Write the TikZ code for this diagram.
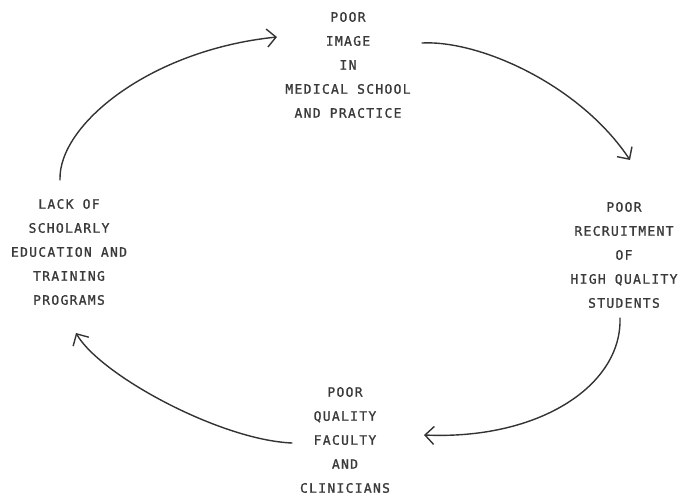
\documentclass[tikz,border=0pt]{standalone}
\usepackage{fontspec}
\usetikzlibrary{arrows.meta}
\newfontfamily\typew[LetterSpace=10,FakeBold=1.2]{DejaVu Sans Mono}
\definecolor{ink}{HTML}{333333}
\definecolor{txt}{HTML}{3A3A3A}
\tikzset{
  label box/.style={align=center, text=txt, font=\typew\fontsize{13}{24}\selectfont, inner sep=0pt},
  cycle arrow/.style={draw=ink, line width=1.4pt, line cap=round,
    -{Straight Barb[length=9pt,width=18pt,line width=1.4pt]}}
}
\begin{document}
\begin{tikzpicture}[x=1pt,y=-1pt]
\useasboundingbox (0,0) rectangle (681,495);
\node[label box] (top) at (348,65) {POOR\\IMAGE\\IN\\MEDICAL SCHOOL\\AND PRACTICE};
\node[label box] (right) at (624,255) {POOR\\RECRUITMENT\\OF\\HIGH QUALITY\\STUDENTS};
\node[label box] (bottom) at (345,440) {POOR\\QUALITY\\FACULTY\\AND\\CLINICIANS};
\node[label box] (left) at (69,252) {LACK OF\\SCHOLARLY\\EDUCATION AND\\TRAINING\\PROGRAMS};
\coordinate (a1s) at (60,180);
\coordinate (a1e) at (277,37);
\coordinate (a2s) at (422,43);
\coordinate (a2e) at (630,160);
\coordinate (a3s) at (620,318);
\coordinate (a3e) at (424,435);
\coordinate (a4s) at (292,443);
\coordinate (a4e) at (76,333);
\draw[cycle arrow] (a1s) .. controls (58,125) and (150,50) .. (a1e);
\draw[cycle arrow] (a2s) .. controls (480,40) and (580,85) .. (a2e);
\draw[cycle arrow] (a3s) .. controls (622,385) and (540,440) .. (a3e);
\draw[cycle arrow] (a4s) .. controls (220,440) and (100,375) .. (a4e);
\end{tikzpicture}
\end{document}
